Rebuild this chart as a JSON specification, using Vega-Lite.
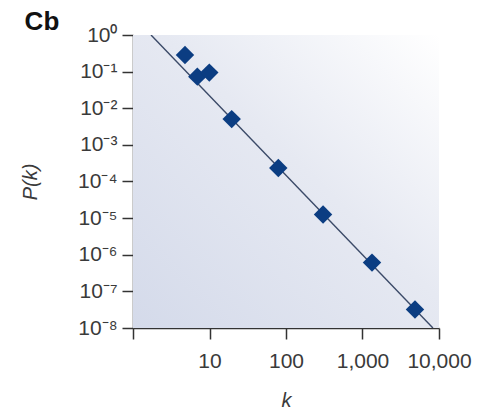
{
  "$schema": "https://vega.github.io/schema/vega-lite/v6.json",
  "width": 306,
  "height": 293,
  "autosize": {"type": "none"},
  "padding": {"left": 133, "top": 35, "right": 44, "bottom": 84},
  "background": "#ffffff",
  "title": {"text": "Cb", "anchor": "start", "frame": "bounds", "font": "Liberation Sans", "fontSize": 26, "fontWeight": "bold", "color": "#111111", "offset": 4, "dx": 4, "dy": 15},
  "config": {
    "view": {"stroke": null},
    "axis": {
      "grid": false,
      "domainColor": "#333333",
      "domainWidth": 1.5,
      "tickColor": "#333333",
      "tickWidth": 1.5,
      "tickSize": 11,
      "labelFont": "Liberation Sans",
      "labelFontSize": 21,
      "labelColor": "#3a3a3a",
      "labelOverlap": false,
      "labelFlush": false,
      "titleFont": "Liberation Sans",
      "titleFontSize": 20,
      "titleFontWeight": "normal",
      "titleFontStyle": "italic",
      "titleColor": "#3a3a3a"
    }
  },
  "datasets": {
    "points": [
      {"k": 4.78, "P": 0.285},
      {"k": 6.93, "P": 0.073},
      {"k": 9.94, "P": 0.094},
      {"k": 19.5, "P": 0.00505},
      {"k": 79.3, "P": 0.000233},
      {"k": 305, "P": 0.0000125},
      {"k": 1331, "P": 0.00000061},
      {"k": 4853, "P": 0.000000032}
    ],
    "fit": [
      {"k": 1.72, "P": 1},
      {"k": 8330, "P": 0.00000001}
    ]
  },
  "layer": [
    {
      "data": {"values": [{}]},
      "mark": {
        "type": "rect",
        "color": {
          "gradient": "linear",
          "x1": 0, "y1": 1, "x2": 1, "y2": 0,
          "stops": [
            {"offset": 0, "color": "#d4daea"},
            {"offset": 0.55, "color": "#e6e9f2"},
            {"offset": 1, "color": "#ffffff"}
          ]
        }
      },
      "encoding": {}
    },
    {
      "encoding": {
        "x": {
          "field": "k", "type": "quantitative",
          "scale": {"type": "log", "domain": [1, 10000]},
          "axis": {
            "title": "k",
            "values": [1, 10, 100, 1000, 10000],
            "labelExpr": "datum.value < 2 ? '' : format(datum.value, ',')",
            "labelPadding": 11,
            "titlePadding": 19
          }
        },
        "y": {
          "field": "P", "type": "quantitative",
          "scale": {"type": "log", "domain": [0.00000001, 1]},
          "axis": {
            "title": "P(k)",
            "values": [1, 0.1, 0.01, 0.001, 0.0001, 0.00001, 0.000001, 0.0000001, 0.00000001],
            "labelExpr": "['10⁰','10⁻¹','10⁻²','10⁻³','10⁻⁴','10⁻⁵','10⁻⁶','10⁻⁷','10⁻⁸'][round(-log(datum.value)/LN10)]",
            "labelPadding": 5,
            "titlePadding": 37
          }
        }
      },
      "layer": [
        {
          "data": {"name": "fit"},
          "mark": {"type": "line", "color": "#3b4a68", "strokeWidth": 1.4, "clip": true}
        },
        {
          "data": {"name": "points"},
          "mark": {"type": "point", "shape": "diamond", "filled": true, "size": 340, "color": "#0b3d82", "opacity": 1}
        }
      ]
    }
  ]
}
